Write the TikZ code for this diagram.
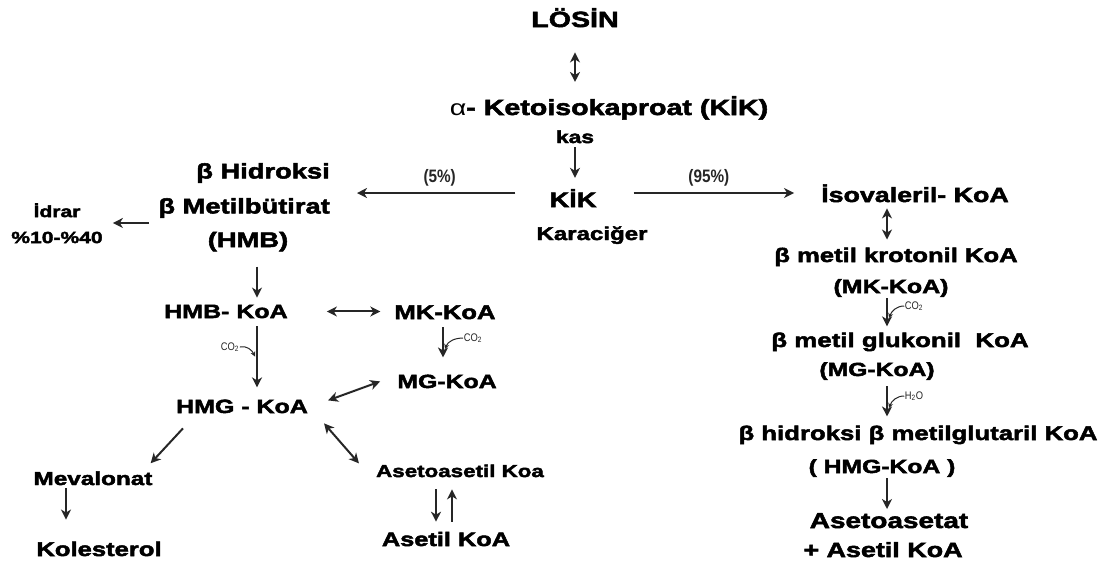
\documentclass[tikz,border=0pt]{standalone}
\usepackage{fontspec}
\usetikzlibrary{arrows.meta,positioning,calc}
\newfontfamily\dgfont[FakeStretch=1.3,BoldFeatures={FakeBold=2.5}]{Liberation Sans}
\newfontfamily\nrwfont[FakeStretch=0.85]{Liberation Sans}
\definecolor{arrgray}{HTML}{262626}
\tikzset{
        mol/.style={anchor=base, inner sep=1pt, font=\dgfont\bfseries\fontsize{#1}{#1}\selectfont},
        mol/.default=19.5,
        pct/.style={inner sep=1pt, font=\nrwfont\bfseries\fontsize{18}{18}\selectfont, text=black!85},
        gaslbl/.style={inner sep=0.5pt, font=\nrwfont\fontsize{11}{11}\selectfont, text=black!85},
        arr/.style={draw=arrgray, line width=2pt, -{Stealth[length=10pt,width=10pt,inset=3pt]}},
        darr/.style={draw=arrgray, line width=2pt, {Stealth[length=10pt,width=10pt,inset=3pt]}-{Stealth[length=10pt,width=10pt,inset=3pt]}},
        gasarr/.style={draw=arrgray, line width=1pt, -{Stealth[length=5pt,width=5pt]}}
}

\begin{document}
\begin{tikzpicture}[x=1pt,y=-1pt]
        \useasboundingbox (0,0) rectangle (1107,566);

        \node[mol=22] (losin) at (575,27) {LÖSİN};
        \node[mol=22] (keto) at (609,115) {{\mdseries α}- Ketoisokaproat (KİK)};
        \node[mol=17.5] (kas) at (575,143) {kas};
        \node[mol=21] (kik) at (573,207) {KİK};
        \node[mol=18.5] (karac) at (592,240) {Karaciğer};

        \node[anchor=north east, align=right, inner sep=1pt, font=\dgfont\bfseries\fontsize{21}{35}\selectfont] (hmbad) at (331,162) {β Hidroksi\\β Metilbütirat};
        \node[mol=21] (hmbab) at (248,247) {(HMB)};
        \node[anchor=north, align=center, inner sep=1pt, font=\dgfont\bfseries\fontsize{16.2}{26}\selectfont] (idrar) at (57,202) {İdrar\\\%10-\%40};

        \node[mol=19.2] (hmbk) at (226,318) {HMB- KoA};
        \node[mol=19.7] (mkk) at (445,319) {MK-KoA};
        \node[mol=19.1] (mgk) at (447,388) {MG-KoA};
        \node[mol=19.2] (hmgk) at (242,413) {HMG - KoA};
        \node[mol=18.7] (meval) at (93,485) {Mevalonat};
        \node[mol=19.7] (koles) at (99,556) {Kolesterol};
        \node[mol=17.2] (asetk) at (460,477) {Asetoasetil Koa};
        \node[mol=19.5] (asetil) at (446,546) {Asetil KoA};

        \node[mol=20.6] (isov) at (915,202) {İsovaleril- KoA};
        \node[mol=19.7] (mkl) at (896,262) {β metil krotonil KoA};
        \node[mol=19.2] (mkab) at (891,293) {(MK-KoA)};
        \node[mol=19.9] (mgl) at (900,347) {β metil glukonil\ \ KoA};
        \node[mol=19] (mgab) at (877,376) {(MG-KoA)};
        \node[mol=19.8] (hmgl) at (918,440) {β hidroksi β metilglutaril KoA};
        \node[mol=19] (hmgab) at (882,473) {( HMG-KoA )};
        \node[mol=21.5] (asetat) at (889,528) {Asetoasetat};
        \node[mol=20.7] (asplus) at (883,557) {+ Asetil KoA};

        \node[gaslbl] (co2a) at (230,347) {CO\textsubscript{2}};
        \node[gaslbl] (co2b) at (473,338) {CO\textsubscript{2}};
        \node[gaslbl] (co2c) at (914,306) {CO\textsubscript{2}};
        \node[gaslbl] (h2o) at (914,396) {H\textsubscript{2}O};

        % middle
        \draw[darr, shorten <=24pt, shorten >=13pt] (losin.south) -- (losin.south |- keto.north);
        \draw[arr, shorten <=3pt, shorten >=10pt] (kas.south) -- (kas.south |- kik.north);
        \draw[arr, shorten <=33pt, shorten >=26pt] ([yshift=5pt]kik.west) -- ([yshift=5pt]kik.west -| hmbad.east) node[midway, above=5pt, pct] (five) {(5\%)};
        \draw[arr, shorten <=36pt, shorten >=26pt] ([yshift=5pt]kik.east) -- ([yshift=5pt]kik.east -| isov.west) node[midway, above=5pt, pct] (ninetyfive) {(95\%)};

        % left branch
        \draw[arr, shorten <=8pt, shorten >=9pt] ([yshift=-4pt]hmbad.south west) -- ([yshift=-4pt]hmbad.south west -| idrar.east);
        \draw[arr, shorten <=14pt, shorten >=6pt] ([xshift=9pt]hmbab.south) -- ([xshift=9pt]hmbab.south |- hmbk.north);
        \draw[darr, shorten <=38pt, shorten >=13pt] (hmbk.east) -- (hmbk.east -| mkk.west);
        \draw[arr, shorten <=7pt, shorten >=11pt] ([xshift=31pt]hmbk.south) -- coordinate[pos=0.47] (co2in) ([xshift=31pt]hmbk.south |- hmgk.north);
        \draw[gasarr] (co2a.east) to[out=15, in=115] ([xshift=-2pt]co2in);
        \draw[arr, shorten <=7pt, shorten >=16pt] ([xshift=-2pt]mkk.south) -- coordinate[pos=0.54] (co2mk) ([xshift=-2pt]mkk.south |- mgk.north);
        \draw[gasarr] (co2b.west) to[out=180, in=70] ([xshift=2pt]co2mk);
        \draw[darr] ([shift={(19,-6)}]hmgk.east) -- ([shift={(-16,0)}]mgk.west);
        \draw[darr] ([shift={(15,9)}]hmgk.south east) -- ([shift={(-16,0)}]asetk.north west);
        \draw[arr] ([shift={(8,14)}]hmgk.south west) -- ([shift={(-3,-7)}]meval.north east);
        \draw[arr, shorten <=2pt, shorten >=21pt] ([xshift=-27pt]meval.south) -- ([xshift=-27pt]meval.south |- koles.north);
        \draw[arr, shorten <=11pt, shorten >=9pt] ([xshift=-24pt]asetk.south) -- ([xshift=-24pt]asetk.south |- asetil.north);
        \draw[arr, shorten <=9pt, shorten >=11pt] ([xshift=-8pt]asetk.south |- asetil.north) -- ([xshift=-8pt]asetk.south);

        % right branch
        \draw[darr, shorten <=5pt, shorten >=7pt] ([xshift=-28pt]isov.south) -- ([xshift=-28pt]isov.south |- mkl.north);
        \draw[arr, shorten >=5pt] ([xshift=-4pt]mkab.south) -- coordinate[pos=0.6] (co2kr) ([xshift=-4pt]mkab.south |- mgl.north);
        \draw[gasarr] (co2c.west) to[out=180, in=70] ([xshift=2pt]co2kr);
        \draw[arr, shorten <=5pt, shorten >=8pt] ([xshift=10pt]mgab.south) -- coordinate[pos=0.62] (h2oin) ([xshift=10pt]mgab.south |- hmgl.north);
        \draw[gasarr] (h2o.west) to[out=180, in=70] ([xshift=2pt]h2oin);
        \draw[arr, shorten >=3pt] ([xshift=5pt]hmgab.south) -- ([xshift=5pt]hmgab.south |- asetat.north);

\end{tikzpicture}
\end{document}
